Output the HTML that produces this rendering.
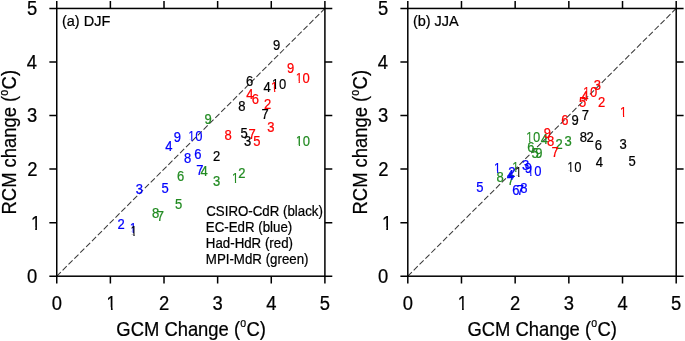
<!DOCTYPE html>
<html><head><meta charset="utf-8"><style>
html,body{margin:0;padding:0;background:#fff;}
body{width:685px;height:341px;overflow:hidden;}
svg{display:block;will-change:transform;font-family:"Liberation Sans",sans-serif;}
text{stroke:currentColor;stroke-width:0.22px;}
</style></head><body>
<svg width="685" height="341" viewBox="0 0 685 341">
<rect width="685" height="341" fill="#fff"/>
<line x1="56.75" y1="276.2" x2="324.9" y2="8.45" stroke="#3a3a3a" stroke-width="1.05" stroke-dasharray="5.8 2.5"/>
<text transform="translate(231.67 182.87) scale(1.0 1.09)" font-size="13" fill="#228b22" style="color:#228b22" clip-path="url(#c13)">1</text>
<text transform="translate(238.29 178.35) scale(1.0 1.09)" font-size="13" fill="#228b22" style="color:#228b22">2</text>
<text transform="translate(212.92 185.68) scale(1.0 1.09)" font-size="13" fill="#228b22" style="color:#228b22">3</text>
<text transform="translate(200.43 176.07) scale(1.0 1.09)" font-size="13" fill="#228b22" style="color:#228b22">4</text>
<text transform="translate(175.00 208.81) scale(1.0 1.09)" font-size="13" fill="#228b22" style="color:#228b22">5</text>
<text transform="translate(176.94 181.38) scale(1.0 1.09)" font-size="13" fill="#228b22" style="color:#228b22">6</text>
<text transform="translate(156.78 220.67) scale(1.0 1.09)" font-size="13" fill="#228b22" style="color:#228b22">7</text>
<text transform="translate(152.09 217.78) scale(1.0 1.09)" font-size="13" fill="#228b22" style="color:#228b22">8</text>
<text transform="translate(204.49 123.88) scale(1.0 1.09)" font-size="13" fill="#228b22" style="color:#228b22">9</text>
<text transform="translate(295.60 146.18) scale(1.0 1.09)" font-size="13" fill="#228b22" style="color:#228b22" clip-path="url(#c13)">10</text>
<text transform="translate(286.89 72.88) scale(1.0 1.09)" font-size="13" fill="#ff0000" style="color:#ff0000">9</text>
<text transform="translate(295.40 82.68) scale(1.0 1.09)" font-size="13" fill="#ff0000" style="color:#ff0000" clip-path="url(#c13)">10</text>
<text transform="translate(246.33 99.37) scale(1.0 1.09)" font-size="13" fill="#ff0000" style="color:#ff0000">4</text>
<text transform="translate(251.64 103.68) scale(1.0 1.09)" font-size="13" fill="#ff0000" style="color:#ff0000">6</text>
<text transform="translate(263.99 109.25) scale(1.0 1.09)" font-size="13" fill="#ff0000" style="color:#ff0000">2</text>
<text transform="translate(270.87 91.67) scale(1.0 1.09)" font-size="13" fill="#ff0000" style="color:#ff0000" clip-path="url(#c13)">1</text>
<text transform="translate(267.32 131.88) scale(1.0 1.09)" font-size="13" fill="#ff0000" style="color:#ff0000">3</text>
<text transform="translate(224.39 140.48) scale(1.0 1.09)" font-size="13" fill="#ff0000" style="color:#ff0000">8</text>
<text transform="translate(248.38 138.57) scale(1.0 1.09)" font-size="13" fill="#ff0000" style="color:#ff0000">7</text>
<text transform="translate(253.20 146.01) scale(1.0 1.09)" font-size="13" fill="#ff0000" style="color:#ff0000">5</text>
<text transform="translate(129.47 233.37) scale(1.0 1.09)" font-size="13" fill="#0000ff" style="color:#0000ff" clip-path="url(#c13)">1</text>
<text transform="translate(117.39 228.95) scale(1.0 1.09)" font-size="13" fill="#0000ff" style="color:#0000ff">2</text>
<text transform="translate(135.72 193.58) scale(1.0 1.09)" font-size="13" fill="#0000ff" style="color:#0000ff">3</text>
<text transform="translate(165.23 150.97) scale(1.0 1.09)" font-size="13" fill="#0000ff" style="color:#0000ff">4</text>
<text transform="translate(161.40 192.61) scale(1.0 1.09)" font-size="13" fill="#0000ff" style="color:#0000ff">5</text>
<text transform="translate(194.34 158.58) scale(1.0 1.09)" font-size="13" fill="#0000ff" style="color:#0000ff">6</text>
<text transform="translate(196.18 174.87) scale(1.0 1.09)" font-size="13" fill="#0000ff" style="color:#0000ff">7</text>
<text transform="translate(183.99 162.88) scale(1.0 1.09)" font-size="13" fill="#0000ff" style="color:#0000ff">8</text>
<text transform="translate(173.79 141.58) scale(1.0 1.09)" font-size="13" fill="#0000ff" style="color:#0000ff">9</text>
<text transform="translate(188.10 141.38) scale(1.0 1.09)" font-size="13" fill="#0000ff" style="color:#0000ff" clip-path="url(#c13)">10</text>
<text transform="translate(272.89 49.88) scale(1.0 1.09)" font-size="13" fill="#000000" style="color:#000000">9</text>
<text transform="translate(246.04 86.48) scale(1.0 1.09)" font-size="13" fill="#000000" style="color:#000000">6</text>
<text transform="translate(263.53 92.47) scale(1.0 1.09)" font-size="13" fill="#000000" style="color:#000000">4</text>
<text transform="translate(271.70 89.08) scale(1.0 1.09)" font-size="13" fill="#000000" style="color:#000000" clip-path="url(#c13)">10</text>
<text transform="translate(238.19 110.68) scale(1.0 1.09)" font-size="13" fill="#000000" style="color:#000000">8</text>
<text transform="translate(261.38 118.67) scale(1.0 1.09)" font-size="13" fill="#000000" style="color:#000000">7</text>
<text transform="translate(240.40 137.61) scale(1.0 1.09)" font-size="13" fill="#000000" style="color:#000000">5</text>
<text transform="translate(244.02 145.98) scale(1.0 1.09)" font-size="13" fill="#000000" style="color:#000000">3</text>
<text transform="translate(212.89 161.45) scale(1.0 1.09)" font-size="13" fill="#000000" style="color:#000000">2</text>
<text transform="translate(130.17 236.47) scale(1.0 1.09)" font-size="13" fill="#000000" style="color:#000000" clip-path="url(#c13)">1</text>
<rect x="56.75" y="8.45" width="268.15" height="267.75" fill="none" stroke="#000" stroke-width="1.5"/>
<path d="M56.75 276.2v7.4M56.75 8.45v-7.4M56.75 276.20h-7.4M324.9 276.20h7.4M110.38 276.2v7.4M110.38 8.45v-7.4M56.75 222.65h-7.4M324.9 222.65h7.4M164.01 276.2v7.4M164.01 8.45v-7.4M56.75 169.10h-7.4M324.9 169.10h7.4M217.64 276.2v7.4M217.64 8.45v-7.4M56.75 115.55h-7.4M324.9 115.55h7.4M271.27 276.2v7.4M271.27 8.45v-7.4M56.75 62.00h-7.4M324.9 62.00h7.4M324.90 276.2v7.4M324.90 8.45v-7.4M56.75 8.45h-7.4M324.9 8.45h7.4" stroke="#000" stroke-width="1.5" fill="none"/>
<text transform="translate(51.63 309.90) scale(1.0 1.09)" font-size="18.4" fill="#000" style="color:#000">0</text>
<text transform="translate(26.94 283.10) scale(1.0 1.09)" font-size="18.4" fill="#000" style="color:#000">0</text>
<text transform="translate(106.37 309.90) scale(1.0 1.09)" font-size="18.4" fill="#000" style="color:#000" clip-path="url(#c18_4)">1</text>
<text transform="translate(30.64 229.55) scale(1.0 1.09)" font-size="18.4" fill="#000" style="color:#000" clip-path="url(#c18_4)">1</text>
<text transform="translate(158.89 310.00) scale(1.0 1.09)" font-size="18.4" fill="#000" style="color:#000">2</text>
<text transform="translate(27.14 176.10) scale(1.0 1.09)" font-size="18.4" fill="#000" style="color:#000">2</text>
<text transform="translate(212.58 309.90) scale(1.0 1.09)" font-size="18.4" fill="#000" style="color:#000">3</text>
<text transform="translate(27.03 122.45) scale(1.0 1.09)" font-size="18.4" fill="#000" style="color:#000">3</text>
<text transform="translate(266.21 309.90) scale(1.0 1.09)" font-size="18.4" fill="#000" style="color:#000">4</text>
<text transform="translate(26.76 68.90) scale(1.0 1.09)" font-size="18.4" fill="#000" style="color:#000">4</text>
<text transform="translate(319.80 309.80) scale(1.0 1.09)" font-size="18.4" fill="#000" style="color:#000">5</text>
<text transform="translate(26.99 15.25) scale(1.0 1.09)" font-size="18.4" fill="#000" style="color:#000">5</text>
<line x1="407.8" y1="276.2" x2="676.2" y2="8.45" stroke="#3a3a3a" stroke-width="1.05" stroke-dasharray="5.8 2.5"/>
<text transform="translate(511.97 171.67) scale(1.0 1.09)" font-size="13" fill="#228b22" style="color:#228b22" clip-path="url(#c13)">1</text>
<text transform="translate(555.39 149.25) scale(1.0 1.09)" font-size="13" fill="#228b22" style="color:#228b22">2</text>
<text transform="translate(564.42 145.88) scale(1.0 1.09)" font-size="13" fill="#228b22" style="color:#228b22">3</text>
<text transform="translate(540.73 144.27) scale(1.0 1.09)" font-size="13" fill="#228b22" style="color:#228b22">4</text>
<text transform="translate(531.40 157.91) scale(1.0 1.09)" font-size="13" fill="#228b22" style="color:#228b22">5</text>
<text transform="translate(527.14 152.18) scale(1.0 1.09)" font-size="13" fill="#228b22" style="color:#228b22">6</text>
<text transform="translate(507.18 185.17) scale(1.0 1.09)" font-size="13" fill="#228b22" style="color:#228b22">7</text>
<text transform="translate(496.49 181.88) scale(1.0 1.09)" font-size="13" fill="#228b22" style="color:#228b22">8</text>
<text transform="translate(535.19 157.98) scale(1.0 1.09)" font-size="13" fill="#228b22" style="color:#228b22">9</text>
<text transform="translate(525.90 141.88) scale(1.0 1.09)" font-size="13" fill="#228b22" style="color:#228b22" clip-path="url(#c13)">10</text>
<text transform="translate(619.77 116.87) scale(1.0 1.09)" font-size="13" fill="#ff0000" style="color:#ff0000" clip-path="url(#c13)">1</text>
<text transform="translate(597.99 107.25) scale(1.0 1.09)" font-size="13" fill="#ff0000" style="color:#ff0000">2</text>
<text transform="translate(593.82 90.18) scale(1.0 1.09)" font-size="13" fill="#ff0000" style="color:#ff0000">3</text>
<text transform="translate(581.33 100.67) scale(1.0 1.09)" font-size="13" fill="#ff0000" style="color:#ff0000">4</text>
<text transform="translate(579.10 106.81) scale(1.0 1.09)" font-size="13" fill="#ff0000" style="color:#ff0000">5</text>
<text transform="translate(561.34 125.38) scale(1.0 1.09)" font-size="13" fill="#ff0000" style="color:#ff0000">6</text>
<text transform="translate(551.38 157.37) scale(1.0 1.09)" font-size="13" fill="#ff0000" style="color:#ff0000">7</text>
<text transform="translate(546.89 145.68) scale(1.0 1.09)" font-size="13" fill="#ff0000" style="color:#ff0000">8</text>
<text transform="translate(543.79 138.38) scale(1.0 1.09)" font-size="13" fill="#ff0000" style="color:#ff0000">9</text>
<text transform="translate(582.90 96.58) scale(1.0 1.09)" font-size="13" fill="#ff0000" style="color:#ff0000" clip-path="url(#c13)">10</text>
<text transform="translate(493.87 172.87) scale(1.0 1.09)" font-size="13" fill="#0000ff" style="color:#0000ff" clip-path="url(#c13)">1</text>
<text transform="translate(508.19 176.65) scale(1.0 1.09)" font-size="13" fill="#0000ff" style="color:#0000ff">2</text>
<text transform="translate(521.92 169.98) scale(1.0 1.09)" font-size="13" fill="#0000ff" style="color:#0000ff">3</text>
<text transform="translate(506.83 179.87) scale(1.0 1.09)" font-size="13" fill="#0000ff" style="color:#0000ff">4</text>
<text transform="translate(476.20 191.81) scale(1.0 1.09)" font-size="13" fill="#0000ff" style="color:#0000ff">5</text>
<text transform="translate(512.14 194.58) scale(1.0 1.09)" font-size="13" fill="#0000ff" style="color:#0000ff">6</text>
<text transform="translate(516.78 194.57) scale(1.0 1.09)" font-size="13" fill="#0000ff" style="color:#0000ff">7</text>
<text transform="translate(520.19 193.48) scale(1.0 1.09)" font-size="13" fill="#0000ff" style="color:#0000ff">8</text>
<text transform="translate(524.79 172.88) scale(1.0 1.09)" font-size="13" fill="#0000ff" style="color:#0000ff">9</text>
<text transform="translate(527.00 175.88) scale(1.0 1.09)" font-size="13" fill="#0000ff" style="color:#0000ff" clip-path="url(#c13)">10</text>
<text transform="translate(514.97 177.47) scale(1.0 1.09)" font-size="13" fill="#000000" style="color:#000000" clip-path="url(#c13)">1</text>
<text transform="translate(586.39 141.75) scale(1.0 1.09)" font-size="13" fill="#000000" style="color:#000000">2</text>
<text transform="translate(619.62 148.98) scale(1.0 1.09)" font-size="13" fill="#000000" style="color:#000000">3</text>
<text transform="translate(595.83 166.87) scale(1.0 1.09)" font-size="13" fill="#000000" style="color:#000000">4</text>
<text transform="translate(628.60 166.31) scale(1.0 1.09)" font-size="13" fill="#000000" style="color:#000000">5</text>
<text transform="translate(594.64 149.88) scale(1.0 1.09)" font-size="13" fill="#000000" style="color:#000000">6</text>
<text transform="translate(581.78 120.07) scale(1.0 1.09)" font-size="13" fill="#000000" style="color:#000000">7</text>
<text transform="translate(579.79 141.68) scale(1.0 1.09)" font-size="13" fill="#000000" style="color:#000000">8</text>
<text transform="translate(571.49 125.48) scale(1.0 1.09)" font-size="13" fill="#000000" style="color:#000000">9</text>
<text transform="translate(567.10 172.18) scale(1.0 1.09)" font-size="13" fill="#000000" style="color:#000000" clip-path="url(#c13)">10</text>
<rect x="407.8" y="8.45" width="268.40" height="267.75" fill="none" stroke="#000" stroke-width="1.5"/>
<path d="M407.80 276.2v7.4M407.80 8.45v-7.4M407.8 276.20h-7.4M676.2 276.20h7.4M461.48 276.2v7.4M461.48 8.45v-7.4M407.8 222.65h-7.4M676.2 222.65h7.4M515.16 276.2v7.4M515.16 8.45v-7.4M407.8 169.10h-7.4M676.2 169.10h7.4M568.84 276.2v7.4M568.84 8.45v-7.4M407.8 115.55h-7.4M676.2 115.55h7.4M622.52 276.2v7.4M622.52 8.45v-7.4M407.8 62.00h-7.4M676.2 62.00h7.4M676.20 276.2v7.4M676.20 8.45v-7.4M407.8 8.45h-7.4M676.2 8.45h7.4" stroke="#000" stroke-width="1.5" fill="none"/>
<text transform="translate(402.68 309.90) scale(1.0 1.09)" font-size="18.4" fill="#000" style="color:#000">0</text>
<text transform="translate(377.99 283.10) scale(1.0 1.09)" font-size="18.4" fill="#000" style="color:#000">0</text>
<text transform="translate(457.47 309.90) scale(1.0 1.09)" font-size="18.4" fill="#000" style="color:#000" clip-path="url(#c18_4)">1</text>
<text transform="translate(381.69 229.55) scale(1.0 1.09)" font-size="18.4" fill="#000" style="color:#000" clip-path="url(#c18_4)">1</text>
<text transform="translate(510.04 310.00) scale(1.0 1.09)" font-size="18.4" fill="#000" style="color:#000">2</text>
<text transform="translate(378.19 176.10) scale(1.0 1.09)" font-size="18.4" fill="#000" style="color:#000">2</text>
<text transform="translate(563.78 309.90) scale(1.0 1.09)" font-size="18.4" fill="#000" style="color:#000">3</text>
<text transform="translate(378.08 122.45) scale(1.0 1.09)" font-size="18.4" fill="#000" style="color:#000">3</text>
<text transform="translate(617.46 309.90) scale(1.0 1.09)" font-size="18.4" fill="#000" style="color:#000">4</text>
<text transform="translate(377.81 68.90) scale(1.0 1.09)" font-size="18.4" fill="#000" style="color:#000">4</text>
<text transform="translate(671.10 309.80) scale(1.0 1.09)" font-size="18.4" fill="#000" style="color:#000">5</text>
<text transform="translate(378.04 15.25) scale(1.0 1.09)" font-size="18.4" fill="#000" style="color:#000">5</text>
<text transform="translate(62.00 25.60) scale(1.0 1.02)" font-size="14.5" fill="#000" style="color:#000">(a) DJF</text>
<text transform="translate(412.90 25.60) scale(1.0 1.02)" font-size="14.5" fill="#000" style="color:#000">(b) JJA</text>
<text transform="translate(206.22 215.70) scale(1.0 1.09)" font-size="13.3" fill="#000" style="color:#000">CSIRO-CdR (black)</text>
<text transform="translate(205.81 231.70) scale(1.0 1.09)" font-size="13.3" fill="#000" style="color:#000">EC-EdR (blue)</text>
<text transform="translate(205.81 247.70) scale(1.0 1.09)" font-size="13.3" fill="#000" style="color:#000">Had-HdR (red)</text>
<text transform="translate(205.81 263.70) scale(1.0 1.09)" font-size="13.3" fill="#000" style="color:#000">MPI-MdR (green)</text>
<text transform="translate(116.37 335.80) scale(1 1.09)" font-size="18.4">GCM Change (</text><text transform="translate(240.21 327.20) scale(1.0 1.12)" font-size="10.6">o</text><text transform="translate(246.50 335.80) scale(1 1.09)" font-size="18.4">C)</text>
<g transform="translate(16.40 214.41) rotate(-90)"><text transform="translate(0.00 0.00) scale(1 1.09)" font-size="18.4">RCM change (</text><text transform="translate(118.72 -8.60) scale(1.0 1.12)" font-size="10.6">o</text><text transform="translate(125.02 0.00) scale(1 1.09)" font-size="18.4">C)</text></g>
<text transform="translate(467.42 335.80) scale(1 1.09)" font-size="18.4">GCM Change (</text><text transform="translate(591.26 327.20) scale(1.0 1.12)" font-size="10.6">o</text><text transform="translate(597.55 335.80) scale(1 1.09)" font-size="18.4">C)</text>
<g transform="translate(367.45 214.41) rotate(-90)"><text transform="translate(0.00 0.00) scale(1 1.09)" font-size="18.4">RCM change (</text><text transform="translate(118.72 -8.60) scale(1.0 1.12)" font-size="10.6">o</text><text transform="translate(125.02 0.00) scale(1 1.09)" font-size="18.4">C)</text></g>
<defs><clipPath id="c13"><path d="M1.206 -9.521H4.443V-1.650H1.206Z M3.237 -1.714H4.443V0.254H3.237Z M7.490 -9.521H19.043V1.904H7.490Z"/></clipPath><clipPath id="c18_4"><path d="M1.707 -13.477H6.289V-2.336H1.707Z M4.582 -2.426H6.289V0.359H4.582Z M10.602 -13.477H26.953V2.695H10.602Z"/></clipPath></defs>
</svg></body></html>
